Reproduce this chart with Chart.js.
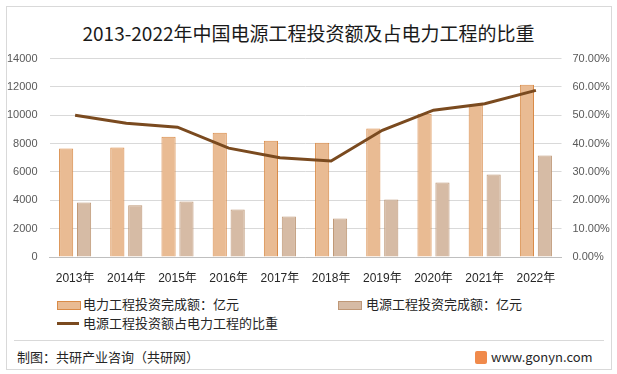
<!DOCTYPE html>
<html>
<head>
<meta charset="utf-8">
<script src="https://cdn.jsdelivr.net/npm/chart.js@4"></script>
<style>
  html, body { margin: 0; padding: 0; background: #fff; }
  body { width: 617px; height: 374px; position: relative; overflow: hidden;
         font-family: "Noto Sans CJK SC", "Liberation Sans", sans-serif; color: #262626; }
  #frame { position: absolute; left: 6px; top: 6px; width: 604px; height: 362px; border: 1px solid #d9d9d9; }
  #title { position: absolute; left: 0; width: 617px; top: 21px; text-align: center; font-size: 19px; line-height: 24px; color: #1a1a1a; }
  #wrap { position: absolute; left: 0; top: 40px; width: 617px; height: 250px; }
  .leg { position: absolute; font-size: 13px; line-height: 16px; color: #262626; white-space: nowrap; }
  .box { position: absolute; width: 22px; height: 7px; }
  #sep { position: absolute; left: 14px; top: 340px; width: 590px; height: 1px; background: #d9d9d9; }
  .foot { position: absolute; top: 349px; font-size: 13px; line-height: 16px; color: #262626; white-space: nowrap; }
  #logo { position: absolute; left: 475px; top: 351px; width: 12px; height: 13px; background: #f08a4b; border-radius: 2px; }
</style>
</head>
<body>
<div id="frame"></div>
<div id="title">2013-2022年中国电源工程投资额及占电力工程的比重</div>
<div id="wrap"><canvas id="myChart"></canvas></div>

<div class="box" style="left:57px;top:301px;background:#E9BB93;border:1px solid #D98B48;"></div>
<div class="leg" style="left:83px;top:296px;">电力工程投资完成额：亿元</div>
<div class="box" style="left:338px;top:301px;background:#D6BBA5;border:1px solid #BF9877;"></div>
<div class="leg" style="left:366px;top:296px;">电源工程投资完成额：亿元</div>
<div class="box" style="left:57px;top:322px;height:3px;background:#7A4A1F;"></div>
<div class="leg" style="left:83px;top:315px;">电源工程投资额占电力工程的比重</div>

<div id="sep"></div>
<div class="foot" style="left:17px;">制图：共研产业咨询（共研网）</div>
<div id="logo"></div>
<div class="foot" style="left:491px;">www.gonyn.com</div>

<script>
const years = ['2013年', '2014年', '2015年', '2016年', '2017年', '2018年', '2019年', '2020年', '2021年', '2022年'];
const powerInvest = [7650, 7720, 8490, 8770, 8210, 8070, 9060, 10110, 10750, 12150];   // 电力工程投资完成额
const sourceInvest = [3850, 3660, 3920, 3360, 2860, 2720, 4060, 5260, 5820, 7160];    // 电源工程投资完成额
const sourceShare = [50.0, 47.2, 45.8, 38.4, 35.0, 33.9, 44.7, 51.8, 54.1, 58.8];      // 占比 %

const tickFont = { family: 'Liberation Sans, Noto Sans CJK SC, sans-serif', size: 11 };

const ctx = document.getElementById('myChart').getContext('2d');
const myChart = new Chart(ctx, {
    type: 'bar',
    data: {
        labels: years,
        datasets: [{
            type: 'line',
            label: '电源工程投资额占电力工程的比重',
            data: sourceShare,
            yAxisID: 'y1',
            borderColor: '#7A4A1F',
            borderWidth: 3,
            pointRadius: 0,
            tension: 0,
            order: 0
        }, {
            label: '电力工程投资完成额：亿元',
            data: powerInvest,
            backgroundColor: '#E9BB93',
            borderColor: '#D98B48',
            borderWidth: 1,
            barPercentage: 0.79,
            categoryPercentage: 0.7,
            order: 1
        }, {
            label: '电源工程投资完成额：亿元',
            data: sourceInvest,
            backgroundColor: '#D6BBA5',
            borderColor: '#BF9877',
            borderWidth: 1,
            barPercentage: 0.79,
            categoryPercentage: 0.7,
            order: 1
        }]
    },
    options: {
        responsive: true,
        maintainAspectRatio: false,
        animation: false,
        layout: { padding: { top: 3, left: 0, right: 0, bottom: 0 } },
        plugins: {
            legend: { display: false },
            tooltip: { enabled: false }
        },
        scales: {
            x: {
                grid: { display: false, drawTicks: false },
                border: { color: '#bfbfbf' },
                ticks: { color: '#262626', font: { family: 'Liberation Sans, Noto Sans CJK SC, sans-serif', size: 12 }, padding: 14 },
                afterFit: function(scale) { scale.height = 33; }
            },
            y: {
                position: 'left',
                min: 0,
                max: 14000,
                ticks: {
                    stepSize: 2000,
                    color: '#595959',
                    font: tickFont,
                    padding: 12,
                    callback: function(v) { return String(v); }
                },
                grid: { color: '#d9d9d9', drawTicks: false },
                border: { display: false },
                afterFit: function(scale) { scale.width = 49.5; }
            },
            y1: {
                position: 'right',
                min: 0,
                max: 70,
                ticks: {
                    stepSize: 10,
                    color: '#595959',
                    font: tickFont,
                    padding: 11,
                    callback: function(v) { return v.toFixed(2) + '%'; }
                },
                grid: { display: false, drawTicks: false },
                border: { display: false },
                afterFit: function(scale) { scale.width = 55.5; }
            }
        }
    }
});
</script>
</body>
</html>
